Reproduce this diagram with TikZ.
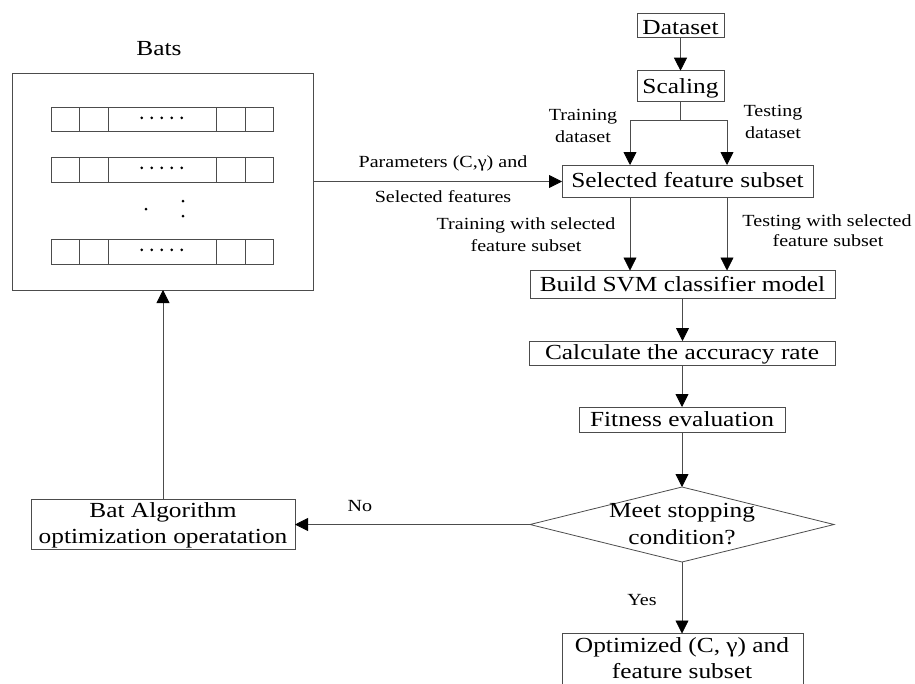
\documentclass[tikz,border=0pt]{standalone}
\usepackage{fontspec}
\setmainfont{Liberation Serif}[FakeStretch=1.18]
\usetikzlibrary{arrows.meta,shapes.geometric}
\begin{document}
\begin{tikzpicture}[x=1pt,y=-1pt,
  every node/.style={inner sep=0pt, outer sep=0pt},
  big/.style={font=\fontsize{21.5}{26}\selectfont},
  small/.style={font=\fontsize{17}{20}\selectfont},
  line/.style={draw=black!70, line width=0.8pt},
  box/.style={line, big},
  arr/.style={line, -{Triangle[length=13pt,width=13pt,color=black,fill=black]}},
  dotmark/.style={fill=black}
]
\useasboundingbox (0,0) rectangle (915,683);
\clip (0,0) rectangle (915,683);

% ---- Bats population ----
\node[big, anchor=base] (batslbl) at (159,55) {Bats};
\node[line, minimum width=301pt, minimum height=217pt] (bats) at (162.5,181.5) {};
\foreach \t/\b in {107/131,157/182,239/264} {
  \draw[line] (51,\t) rectangle (273,\b);
  \foreach \x in {79,108,216,245} \draw[line] (\x,\t) -- (\x,\b);
  \foreach \d in {0,...,4} \fill[dotmark] (141.7+10*\d,\t+10.8) circle (1.5pt);
}
\fill[dotmark] (146,209) circle (1.5pt);
\fill[dotmark] (183,201) circle (1.5pt);
\fill[dotmark] (183,216) circle (1.5pt);

% ---- main flow boxes ----
\node[box, anchor=base, minimum width=87pt, text height=21.5pt, text depth=2.5pt] (dataset) at (680.5,34.5) {Dataset};
\node[box, anchor=base, minimum width=87pt, text height=22.8pt, text depth=8.2pt] (scaling) at (680.5,93.5) {Scaling};
\node[box, anchor=base, minimum width=251pt, text height=22pt, text depth=10pt] (sel) at (687.5,187) {Selected feature subset};
\node[box, anchor=base, minimum width=305pt, text height=21pt, text depth=6.5pt] (build) at (682.5,291.5) {Build SVM classifier model};
\node[box, anchor=base, minimum width=306pt, text height=18.5pt, text depth=5.5pt] (calc) at (682,359.5) {Calculate the accuracy rate};
\node[box, anchor=base, minimum width=206pt, text height=19pt, text depth=6pt] (fit) at (682,426) {Fitness evaluation};

\node[diamond, line, minimum width=304pt, minimum height=75pt] (dec) at (682,524.5) {};
\node[big, anchor=base] (dec1) at (682,517) {Meet stopping};
\node[big, anchor=base] (dec2) at (682,544) {condition?};

\node[line, minimum width=241pt, minimum height=60pt, anchor=north] (opt) at (682.5,633.5) {};
\node[big, anchor=base] (opt1) at (682,652) {Optimized (C, γ) and};
\node[big, anchor=base] (opt2) at (682,678) {feature subset};

\node[line, minimum width=264pt, minimum height=50pt] (bat) at (163,524) {};
\node[big, anchor=base] (bat1) at (163,517) {Bat Algorithm};
\node[big, anchor=base] (bat2) at (163,543) {optimization operatation};

% ---- connectors ----
\coordinate (tl) at (630,120);
\coordinate (tr) at (727,120);
\draw[arr] (dataset.south) -- (scaling.north);
\draw[line] (scaling.south) -- (scaling.south |- tl);
\draw[arr] (scaling.south |- tl) -- (tl) -- (tl |- sel.north);
\draw[arr] (scaling.south |- tr) -- (tr) -- (tr |- sel.north);
\draw[arr] (sel.south -| tl) -- (build.north -| tl);
\draw[arr] (sel.south -| tr) -- (build.north -| tr);
\draw[arr] (build.south) -- (build.south |- calc.north);
\draw[arr] (calc.south) -- (calc.south |- fit.north);
\draw[arr] (fit.south) -- (dec.north);
\draw[arr] (dec.south) -- (dec.south |- opt.north);
\draw[arr] (dec.west) -- (dec.west -| bat.east);
\draw[arr] (bat.north) -- (bat.north |- bats.south);
\draw[arr] (bats.east) -- (bats.east -| sel.west);

% ---- labels ----
\node[small, anchor=base] (par1) at (443,167) {Parameters (C,γ) and};
\node[small, anchor=base] (par2) at (443,202.5) {Selected features};
\node[small, anchor=base] (trd1) at (583,120.5) {Training};
\node[small, anchor=base] (trd2) at (583,142.5) {dataset};
\node[small, anchor=base] (ted1) at (773,116.5) {Testing};
\node[small, anchor=base] (ted2) at (773,138.5) {dataset};
\node[small, anchor=base] (trs1) at (526,229.5) {Training with selected};
\node[small, anchor=base] (trs2) at (526,251.5) {feature subset};
\node[small, anchor=base] (tes1) at (827,226.5) {Testing with selected};
\node[small, anchor=base] (tes2) at (828,246.5) {feature subset};
\node[small, anchor=base] (nolbl) at (360,511.5) {No};
\node[small, anchor=base] (yeslbl) at (642,605) {Yes};
\end{tikzpicture}
\end{document}
